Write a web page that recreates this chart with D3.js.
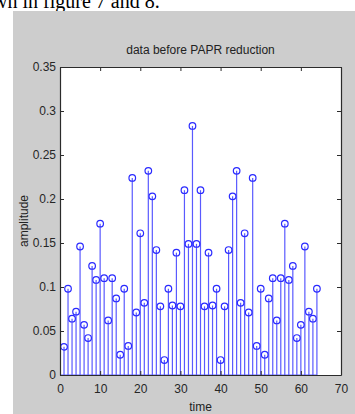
<!DOCTYPE html>
<html>
<head>
<meta charset="utf-8">
<script src="https://cdn.jsdelivr.net/npm/d3@7"></script>
<style>
  body { margin: 0; background: #fff; }
  svg { display: block; }
  text { font-family: "Liberation Sans", Arial, sans-serif; }
</style>
</head>
<body>
<svg id="chart" width="355" height="414"></svg>
<script>
/* data before PAPR reduction - stem plot */
const time = d3.range(1, 65)
const amplitude = [
  0.032, 0.098, 0.064, 0.072, 0.146, 0.057, 0.042, 0.124,
  0.108, 0.172, 0.110, 0.062, 0.110, 0.087, 0.023, 0.098,
  0.033, 0.224, 0.071, 0.161, 0.082, 0.232, 0.203, 0.142,
  0.078, 0.017, 0.098, 0.079, 0.139, 0.078, 0.210, 0.149,
  0.283, 0.149, 0.210, 0.078, 0.139, 0.079, 0.098, 0.017,
  0.078, 0.142, 0.203, 0.232, 0.082, 0.161, 0.071, 0.224,
  0.033, 0.098, 0.023, 0.087, 0.110, 0.062, 0.110, 0.172,
  0.108, 0.124, 0.042, 0.057, 0.146, 0.072, 0.064, 0.098
]
const xTicks = [0, 10, 20, 30, 40, 50, 60, 70]
const yTicks = [0, 0.05, 0.1, 0.15, 0.2, 0.25, 0.3, 0.35]
const yTickLabels = ["0", "0.05", "0.1", "0.15", "0.2", "0.25", "0.3", "0.35"]

const data = time.map((t, i) => ({t: t, v: amplitude[i]}))

const margin = {top: 67, right: 14, bottom: 39, left: 60},
    width = 355 - margin.left - margin.right,
    height = 414 - margin.top - margin.bottom

const svg = d3.select("#chart")

// surrounding page text (cut at the top, as in the source) and figure background
svg.append("text")
    .attr("x", -17)
    .attr("y", 8)
    .style("font-family", "'Liberation Serif', 'Times New Roman', serif")
    .style("font-size", "20px")
    .attr("fill", "#000")
    .text("own in figure 7 and 8.")

svg.append("rect")
    .attr("x", 13)
    .attr("y", 11)
    .attr("width", 355 - 13)
    .attr("height", 414 - 11)
    .attr("fill", "#cdcdcd")

const x = d3.scaleLinear().domain([0, 70]).range([0, width])
const y = d3.scaleLinear().domain([0, 0.35]).range([height, 0])

const g = svg.append("g")
    .attr("transform", "translate(" + margin.left + "," + margin.top + ")")

g.append("rect")
    .attr("width", width)
    .attr("height", height)
    .attr("fill", "#fff")

// stems
g.selectAll("line.stem")
    .data(data)
    .enter()
    .append("line")
    .attr("class", "stem")
    .attr("x1", d => x(d.t))
    .attr("x2", d => x(d.t))
    .attr("y1", y(0))
    .attr("y2", d => y(d.v))
    .attr("stroke", "#5a5aff")
    .attr("stroke-width", 1.2)

g.selectAll("circle")
    .data(data)
    .enter()
    .append("circle")
    .attr("cx", d => x(d.t))
    .attr("cy", d => y(d.v))
    .attr("r", 3.3)
    .attr("fill", "none")
    .attr("stroke", "#2a2aff")
    .attr("stroke-width", 1.2)

// baseline
g.append("line")
    .attr("x1", 0)
    .attr("x2", x(64))
    .attr("y1", y(0))
    .attr("y2", y(0))
    .attr("stroke", "#5a5aff")

// axes (ticks inside, MATLAB box)
const tickLen = 4
const xAxis = d3.axisBottom(x).tickValues(xTicks).tickSizeInner(-tickLen).tickSizeOuter(0).tickPadding(9)
const yAxis = d3.axisLeft(y).tickValues(yTicks).tickSizeInner(-tickLen).tickSizeOuter(0).tickPadding(4)
    .tickFormat((d, i) => yTickLabels[i])
const xTop = d3.axisTop(x).tickValues(xTicks).tickSizeInner(-tickLen).tickSizeOuter(0).tickFormat("")
const yRight = d3.axisRight(y).tickValues(yTicks).tickSizeInner(-tickLen).tickSizeOuter(0).tickFormat("")

const axisStyle = sel => {
    sel.selectAll("path").attr("stroke", "#2b2b2b").attr("stroke-width", 1.2)
    sel.selectAll("line").attr("stroke", "#2b2b2b")
    sel.selectAll("text")
        .attr("fill", "#262626")
        .style("font-size", "12px")
}

g.append("g").attr("transform", "translate(0," + height + ")").call(xAxis).call(axisStyle)
g.append("g").call(yAxis).call(axisStyle)
g.append("g").call(xTop).call(axisStyle)
g.append("g").attr("transform", "translate(" + width + ",0)").call(yRight).call(axisStyle)

// title and labels
g.append("text")
    .attr("x", width / 2)
    .attr("y", -13)
    .attr("text-anchor", "middle")
    .style("font-size", "12px")
    .attr("fill", "#222")
    .text("data before PAPR reduction")

g.append("text")
    .attr("x", width / 2)
    .attr("y", height + 36)
    .attr("text-anchor", "middle")
    .style("font-size", "12px")
    .attr("fill", "#222")
    .text("time")

g.append("text")
    .attr("transform", "translate(" + (28 - margin.left) + "," + (height / 2) + ") rotate(-90)")
    .attr("text-anchor", "middle")
    .style("font-size", "12px")
    .attr("fill", "#222")
    .text("amplitude")
</script>
</body>
</html>
